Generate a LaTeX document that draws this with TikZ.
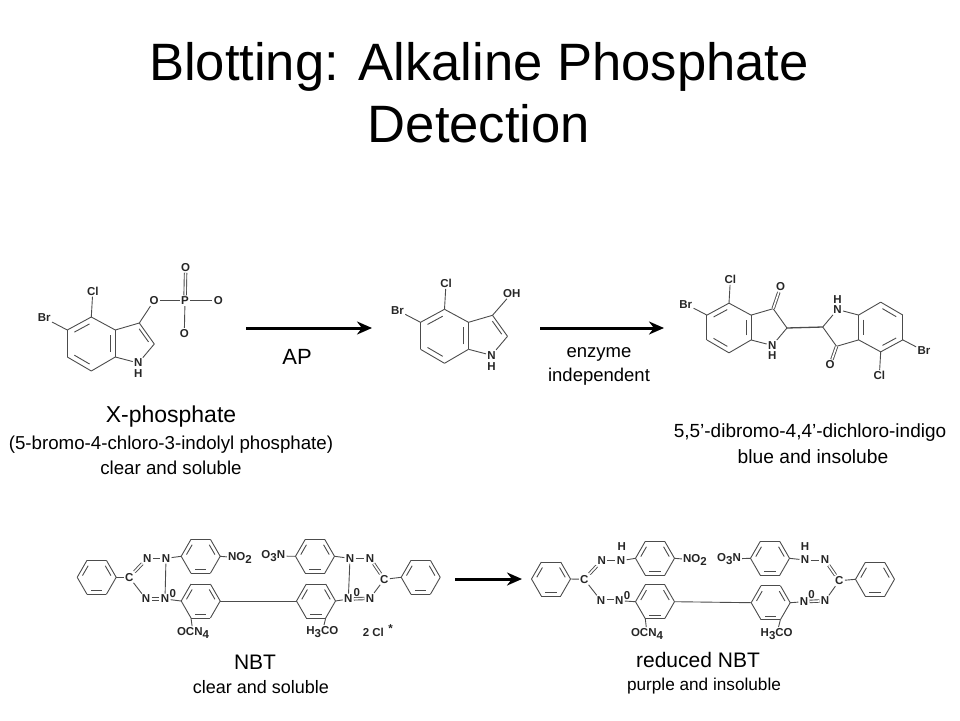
\documentclass[tikz,border=0pt]{standalone}
\usepackage{fontspec}
\setmainfont{Liberation Sans}
\usetikzlibrary{calc,arrows.meta}

\definecolor{bondgray}{gray}{0.3}
\newcommand{\innerbond}[3]{\draw[bond,shorten >=2pt,shorten <=2pt] ($(#1)!.78!(#2)$) -- ($(#1)!.78!(#3)$);}
\newcommand{\fs}[1]{\fontsize{#1}{#1}\selectfont}
\newcommand{\dn}[1]{\raisebox{-3pt}{#1}}

\tikzset{
    bond/.style={draw=bondgray, line width=0.9pt},
    dbond/.style={bond, double, double distance=1.6pt},
    atom/.style={font=\fs{11.5}\bfseries, inner sep=1.2pt, text=black!85},
    zero/.style={atom, inner sep=0pt},
    reaction/.style={draw=black, line width=3pt, -{Stealth[length=15pt,width=13pt]}},
    caption/.style={align=center, inner sep=0pt, text=black},
    indole/.pic={
        \coordinate (-c) at (0,0);
        \coordinate (-a) at (0,-27);
        \coordinate (-ul) at (-24,-14);
        \coordinate (-ll) at (-24,13);
        \coordinate (-b) at (0,27);
        \coordinate (-lr) at (24,13);
        \coordinate (-ur) at (24,-14);
        \coordinate (-c3) at (48,-21);
        \coordinate (-c2) at (63,0);
        \coordinate (-m) at (42,-2);
        \node[atom] (-n) at (47,19) {N};
        \node[atom] (-h) at (47,30) {H};
        \node[atom] (-cl) at (1.5,-53) {Cl};
        \node[atom] (-br) at (-47,-26) {Br};
        \foreach \p/\q in {-a/-ul,-ul/-ll,-ll/-b,-b/-lr,-lr/-ur,-ur/-a,-ur/-c3,-c3/-c2,-c2/-n,-n/-lr,-a/-cl,-ul/-br}
            \draw[bond] (\p) -- (\q);
        \innerbond{-c}{-a}{-ul}
        \innerbond{-c}{-ll}{-b}
        \innerbond{-c}{-lr}{-ur}
    },
    phenyl/.pic={
        \coordinate (-c) at (0,0);
        \coordinate (-e) at (19.5,0);
        \coordinate (-ne) at (9.7,-17);
        \coordinate (-nw) at (-9.7,-17);
        \coordinate (-w) at (-19.5,0);
        \coordinate (-sw) at (-9.7,17);
        \coordinate (-se) at (9.7,17);
        \foreach \p/\q in {-e/-ne,-ne/-nw,-nw/-w,-w/-sw,-sw/-se,-se/-e}
            \draw[bond] (\p) -- (\q);
        \innerbond{-c}{-e}{-ne}
        \innerbond{-c}{-nw}{-w}
        \innerbond{-c}{-sw}{-se}
    }
}

\begin{document}
\begin{tikzpicture}[x=1pt,y=-1pt]
    \useasboundingbox (0,0) rectangle (960,720);

    \node[caption, font=\fontsize{52.6}{62}\selectfont] (title) at (479,93) {Blotting: Alkaline Phosphate\\Detection};

    % X-phosphate
    \pic (xp) at (91.3,344) {indole};
    \innerbond{xp-m}{xp-c3}{xp-c2}
    \node[atom] (xpo) at (154,300.7) {O};
    \node[atom] (xpp) at (185,300.7) {P};
    \node[atom] (xpor) at (218.3,300.7) {O};
    \node[atom] (xpot) at (185.7,267.3) {O};
    \node[atom] (xpob) at (184.3,333.3) {O};
    \draw[bond] (xp-c3) -- (xpo);
    \draw[bond] (xpo) -- (xpp);
    \draw[bond] (xpp) -- (xpor);
    \draw[bond] (xpp) -- (xpob);
    \draw[dbond] (xpp) -- (xpot);

    % indoxyl
    \pic (ix) at (444.5,336.3) {indole};
    \innerbond{ix-m}{ix-c3}{ix-c2}
    \node[atom] (ixoh) at (511.7,293.3) {OH};
    \draw[bond] (ix-c3) -- (ixoh);

    % indigo
    \pic[scale=0.92] (il) at (729,328) {indole};
    \pic[scale=0.92,rotate=180] (ir) at (880.7,327) {indole};
    \node[atom] (ilo) at (780.7,286.7) {O};
    \node[atom] (iro) at (830,365) {O};
    \draw[dbond] (il-c3) -- (ilo);
    \draw[dbond] (ir-c3) -- (iro);
    \draw[bond, line width=1.3pt] (il-c2) -- (ir-c2);

    % NBT
    \pic (nph1) at (96.7,577.3) {phenyl};
    \pic (nno2) at (200.7,556.3) {phenyl};
    \pic (nlo1) at (200.7,601) {phenyl};
    \pic (nlo2) at (316,601) {phenyl};
    \pic (no3n) at (315,556.3) {phenyl};
    \pic (nph2) at (420.7,577.3) {phenyl};
    \node[atom] (nc1) at (129.3,577.3) {C};
    \node[atom] (na1) at (147.3,558.3) {N};
    \node[atom] (na2) at (166,558.3) {N};
    \node[atom] (na3) at (146,599) {N};
    \node[atom] (na4) at (165,599) {N};
    \node[zero] (nz1) at (172.7,593.3) {0};
    \node[atom] (nl1) at (240,558) {NO\dn{2}};
    \node[atom] (nl2) at (193,633) {OCN\dn{4}};
    \node[atom] (nc2) at (384.3,579.3) {C};
    \node[atom] (nb1) at (350,558.3) {N};
    \node[atom] (nb2) at (370,558.3) {N};
    \node[atom] (nb3) at (348.3,599) {N};
    \node[atom] (nb4) at (370,598.3) {N};
    \node[zero] (nz2) at (356.7,592.7) {0};
    \node[atom] (nl3) at (273.3,556) {O\dn{3}N};
    \node[atom] (nl4) at (322.3,632) {H\dn{3}CO};
    \node[atom] (nl5) at (373.3,632) {2 Cl};
    \node[zero] (nl6) at (390.7,629) {*};
    \foreach \p/\q in {nph1-e/nc1,nc1/na3,na1/na2,na2/nno2-w,na2/na4,na4/nlo1-w,nno2-e/nl1,nlo1-sw/nl2,nlo1-e/nlo2-w,
                       nl3/no3n-w,no3n-e/nb1,nb1/nb2,nb1/nb3,nlo2-e/nb3,nc2/nph2-w,nc2/nb4,nlo2-se/nl4}
        \draw[bond] (\p) -- (\q);
    \foreach \p/\q in {nc1/na1,na3/na4,nb2/nc2,nb3/nb4}
        \draw[dbond] (\p) -- (\q);

    % reduced NBT
    \pic (rph1) at (551,579) {phenyl};
    \pic (rno2) at (655,558.3) {phenyl};
    \pic (rlo1) at (655,601.7) {phenyl};
    \pic (rlo2) at (770.7,602.7) {phenyl};
    \pic (ro3n) at (770,558.3) {phenyl};
    \pic (rph2) at (875,579.3) {phenyl};
    \node[atom] (rc1) at (584.3,579.3) {C};
    \node[atom] (ra1) at (601.7,560.7) {N};
    \node[atom] (ra2) at (621,560.7) {N};
    \node[atom] (rh1) at (621.7,546.7) {H};
    \node[atom] (ra3) at (601,600.7) {N};
    \node[atom] (ra4) at (619.3,600.7) {N};
    \node[zero] (rz1) at (627,596) {0};
    \node[atom] (rl1) at (695,560) {NO\dn{2}};
    \node[atom] (rl2) at (647,634) {OCN\dn{4}};
    \node[atom] (rc2) at (839.3,580.7) {C};
    \node[atom] (rb1) at (805,560) {N};
    \node[atom] (rh2) at (805,546.7) {H};
    \node[atom] (rb2) at (825,560) {N};
    \node[atom] (rb3) at (804,601.7) {N};
    \node[atom] (rb4) at (825,600.7) {N};
    \node[zero] (rz2) at (811.5,595) {0};
    \node[atom] (rl3) at (729,559) {O\dn{3}N};
    \node[atom] (rl4) at (776.7,634) {H\dn{3}CO};
    \foreach \p/\q in {rph1-e/rc1,rc1/ra3,ra1/ra2,ra2/rno2-w,ra4/rlo1-w,rno2-e/rl1,rlo1-sw/rl2,rlo1-e/rlo2-w,
                       rl3/ro3n-w,ro3n-e/rb1,rb1/rb2,rlo2-e/rb3,rc2/rph2-w,rc2/rb4,rlo2-se/rl4}
        \draw[bond] (\p) -- (\q);
    \foreach \p/\q in {rc1/ra1,ra3/ra4,rb2/rc2,rb3/rb4}
        \draw[dbond] (\p) -- (\q);

    % arrows
    \coordinate (ar1a) at (246,328);
    \coordinate (ar1b) at (372,328);
    \coordinate (ar2a) at (540,328);
    \coordinate (ar2b) at (664,328);
    \coordinate (ar3a) at (455,579);
    \coordinate (ar3b) at (522,579);
    \draw[reaction] (ar1a) -- (ar1b);
    \draw[reaction] (ar2a) -- (ar2b);
    \draw[reaction] (ar3a) -- (ar3b);

    % captions
    \node[caption, font=\fs{22}] (apl) at (297,357) {AP};
    \node[caption, font=\fs{18.5}] (enz) at (599,366) {enzyme\\[5.5pt]independent};
    \node[caption, font=\fs{23}] (xname) at (171,417) {X-phosphate};
    \node[caption, font=\fs{18.7}] (xfull) at (171,445) {(5-bromo-4-chloro-3-indolyl phosphate)};
    \node[caption, font=\fs{18.7}] (xprop) at (171,468) {clear and soluble};
    \node[caption, font=\fs{19}] (iname) at (810,433) {5,5’-dibromo-4,4’-dichloro-indigo};
    \node[caption, font=\fs{19.2}] (iprop) at (813,457) {blue and insolube};
    \node[caption, font=\fs{21}] (nname) at (255,662) {NBT};
    \node[caption, font=\fs{18}] (nprop) at (261,687) {clear and soluble};
    \node[caption, font=\fs{21}] (rname) at (698,660) {reduced NBT};
    \node[caption, font=\fs{17.2}] (rprop) at (704,686) {purple and insoluble};
\end{tikzpicture}
\end{document}
